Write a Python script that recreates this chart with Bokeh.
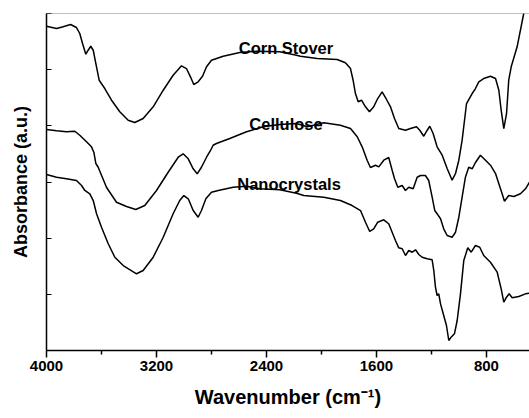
from bokeh.plotting import figure
from bokeh.models import Range1d, FixedTicker, Span, Label
from bokeh.embed import file_html
from bokeh.resources import INLINE

# ---- data (wavenumber cm^-1, absorbance in arbitrary units, offset spectra) ----
wn_corn = [4000, 3927, 3879, 3825, 3782, 3758, 3738, 3714, 3697, 3678, 3660, 3641, 3617, 3576,
           3527, 3467, 3406, 3358, 3297, 3224, 3151, 3079, 3018, 2982, 2953, 2929, 2897, 2865,
           2836, 2800, 2715, 2594, 2473, 2303, 2182, 2153, 2031, 1886, 1826, 1789, 1770, 1753,
           1733, 1709, 1680, 1651, 1620, 1591, 1559, 1527, 1498, 1469, 1438, 1389, 1353, 1309,
           1285, 1256, 1231, 1212, 1188, 1159, 1122, 1086, 1050, 1025, 1001, 977, 945, 904, 880,
           856, 820, 771, 734, 710, 693, 674, 654, 638, 620, 577, 529, 480]
abs_corn = [5.774, 5.733, 5.763, 5.804, 5.750, 5.644, 5.466, 5.275, 5.346, 5.417, 5.346, 5.109,
            4.812, 4.664, 4.456, 4.250, 4.100, 4.059, 4.130, 4.339, 4.634, 4.901, 5.069, 5.020,
            4.873, 4.736, 4.784, 4.883, 5.051, 5.168, 5.240, 5.305, 5.329, 5.318, 5.257, 5.240,
            5.198, 5.181, 5.122, 5.020, 4.812, 4.575, 4.428, 4.456, 4.339, 4.250, 4.339, 4.486,
            4.606, 4.469, 4.339, 4.130, 3.952, 3.922, 3.952, 3.983, 3.922, 3.815, 3.922, 3.993,
            3.863, 3.626, 3.477, 3.240, 3.032, 3.151, 3.388, 3.744, 4.397, 4.575, 4.664, 4.784,
            4.842, 4.883, 4.842, 4.634, 4.278, 3.952, 4.219, 4.812, 5.051, 5.407, 6.000, 6.320]

wn_cell = [4000, 3927, 3855, 3794, 3758, 3709, 3673, 3655, 3641, 3624, 3564, 3491, 3418, 3351,
           3285, 3200, 3115, 3042, 3006, 2969, 2933, 2904, 2873, 2836, 2807, 2788, 2764, 2667,
           2545, 2424, 2303, 2182, 2104, 1983, 1862, 1789, 1740, 1704, 1668, 1644, 1607, 1583,
           1547, 1511, 1486, 1469, 1445, 1413, 1389, 1365, 1333, 1304, 1280, 1244, 1220, 1195,
           1176, 1159, 1134, 1111, 1086, 1050, 1025, 1001, 977, 953, 929, 904, 880, 844, 807,
           771, 734, 710, 686, 669, 638, 601, 553, 516, 487, 465]
abs_cell = [3.934, 3.911, 3.894, 3.904, 3.833, 3.716, 3.626, 3.525, 3.329, 3.263, 2.907, 2.640,
            2.564, 2.510, 2.581, 2.849, 3.174, 3.441, 3.502, 3.413, 3.235, 3.146, 3.263, 3.441,
            3.561, 3.655, 3.685, 3.774, 3.894, 3.983, 4.024, 4.041, 3.983, 4.054, 4.011, 3.952,
            3.805, 3.626, 3.388, 3.258, 3.299, 3.270, 3.388, 3.436, 3.210, 3.062, 2.907, 2.938,
            2.849, 2.907, 2.879, 3.085, 3.116, 3.116, 3.027, 2.729, 2.492, 2.434, 2.345, 2.167,
            2.047, 2.017, 2.106, 2.373, 2.729, 3.085, 3.263, 3.235, 3.347, 3.477, 3.388, 3.299,
            3.151, 2.968, 2.790, 2.658, 2.759, 2.742, 2.790, 2.879, 2.996, 3.080]

wn_nano = [4000, 3927, 3855, 3782, 3745, 3721, 3685, 3660, 3636, 3600, 3551, 3503, 3442, 3345,
           3297, 3224, 3151, 3079, 3031, 3001, 2969, 2933, 2897, 2873, 2841, 2800, 2751, 2642,
           2545, 2449, 2303, 2182, 2129, 1983, 1862, 1777, 1716, 1680, 1649, 1620, 1591, 1547,
           1511, 1486, 1462, 1438, 1413, 1389, 1365, 1340, 1316, 1292, 1268, 1231, 1195, 1183,
           1171, 1159, 1147, 1134, 1111, 1091, 1074, 1057, 1033, 1013, 989, 965, 936, 911, 880,
           849, 820, 771, 722, 693, 674, 654, 635, 613, 565, 516, 487, 465]
abs_nano = [3.133, 3.085, 3.057, 3.027, 2.938, 2.849, 2.790, 2.670, 2.434, 2.195, 1.900, 1.661,
            1.513, 1.366, 1.424, 1.661, 2.017, 2.434, 2.670, 2.759, 2.701, 2.492, 2.373, 2.492,
            2.701, 2.818, 2.849, 2.907, 2.925, 2.879, 2.861, 2.800, 2.759, 2.729, 2.670, 2.581,
            2.492, 2.284, 2.119, 2.167, 2.284, 2.327, 2.256, 2.106, 1.958, 1.828, 1.811, 1.691,
            1.780, 1.750, 1.793, 1.709, 1.661, 1.633, 1.615, 1.424, 1.127, 0.979, 1.009, 0.831,
            0.623, 0.445, 0.178, 0.237, 0.297, 0.534, 1.009, 1.602, 1.828, 1.750, 1.869, 1.839,
            1.691, 1.572, 1.394, 1.098, 0.860, 0.949, 1.009, 0.938, 0.961, 1.009, 1.020, 1.030]

series_names = ["Corn Stover", "Cellulose", "Nanocrystals"]
x_major = [4000, 3200, 2400, 1600, 800]
x_minor = [3600, 2800, 2000, 1200, 400]
y_ticks = [0, 1, 2, 3, 4, 5, 6]

FONT = "Liberation Sans"

p = figure(width=529, height=418, output_backend="svg", toolbar_location=None,
           x_range=Range1d(4000, 487), y_range=Range1d(0, 6),
           min_border_left=46, min_border_right=0, min_border_top=13, min_border_bottom=68)
p.outline_line_color = None
p.grid.visible = False
p.background_fill_color = "white"
p.border_fill_color = "white"

for xs, ys in [(wn_corn, abs_corn), (wn_cell, abs_cell), (wn_nano, abs_nano)]:
    p.line(xs, ys, line_color="black", line_width=1.5)

# top border line
p.add_layout(Span(location=6, dimension="width", line_color="#808080", line_width=1.2))

# x axis
xa = p.xaxis[0]
xa.ticker = FixedTicker(ticks=x_major, minor_ticks=x_minor)
xa.axis_line_color = "black"
xa.axis_line_width = 1.5
xa.major_tick_in = 0
xa.major_tick_out = 7
xa.major_tick_line_width = 1.5
xa.minor_tick_in = 0
xa.minor_tick_out = 4
xa.minor_tick_line_width = 1.5
xa.major_label_text_font = FONT
xa.major_label_text_font_style = "bold"
xa.major_label_text_font_size = "15px"
xa.major_label_text_color = "black"
xa.major_label_standoff = 3
xa.axis_label = "Wavenumber (cm\u207b\u00b9)"
xa.axis_label_text_font = FONT
xa.axis_label_text_font_style = "bold"
xa.axis_label_text_font_size = "20px"
xa.axis_label_text_color = "black"
xa.axis_label_standoff = 12

# y axis
ya = p.yaxis[0]
ya.ticker = FixedTicker(ticks=y_ticks, minor_ticks=[])
ya.axis_line_color = "black"
ya.axis_line_width = 1.5
ya.major_tick_in = 5
ya.major_tick_out = 0
ya.major_tick_line_width = 1
ya.minor_tick_line_color = None
ya.major_label_overrides = {t: "" for t in y_ticks}
ya.major_label_standoff = 0
ya.axis_label = "Absorbance (a.u.)"
ya.axis_label_text_font = FONT
ya.axis_label_text_font_style = "bold"
ya.axis_label_text_font_size = "18px"
ya.axis_label_text_color = "black"
ya.axis_label_standoff = 16

# series labels (data coordinates)
label_pos = [(2258, 5.394), (2258, 4.041), (2236, 2.973)]
for name, (lx, ly) in zip(series_names, label_pos):
    p.add_layout(Label(x=lx, y=ly, text=name, text_align="center", text_baseline="alphabetic",
                       text_font=FONT, text_font_style="bold", text_font_size="16.5px",
                       text_color="black"))

open("out.html", "w").write(file_html(p, INLINE))
